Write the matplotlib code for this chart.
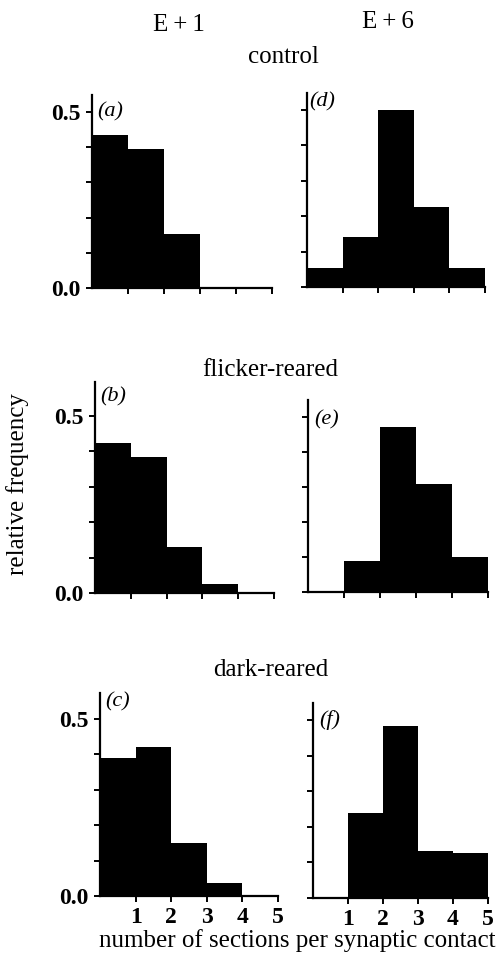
import numpy as np
import matplotlib
matplotlib.use("Agg")
import matplotlib.pyplot as plt

plt.rcParams["font.family"] = ["Liberation Serif", "DejaVu Serif"]

# Relative frequency of contacts by number of sections (bins 0-1, 1-2, ..., 4-5)
bin_edges = [0, 1, 2, 3, 4, 5]
freq_a = [0.435, 0.394, 0.153, 0.0, 0.0]    # control, E+1
freq_d = [0.054, 0.140, 0.500, 0.226, 0.054]  # control, E+6
freq_b = [0.423, 0.384, 0.130, 0.025, 0.0]  # flicker-reared, E+1
freq_e = [0.0, 0.088, 0.471, 0.308, 0.100]  # flicker-reared, E+6
freq_c = [0.390, 0.420, 0.150, 0.037, 0.0]  # dark-reared, E+1
freq_f = [0.0, 0.240, 0.485, 0.132, 0.127]  # dark-reared, E+6

x_tick_values = [1, 2, 3, 4, 5]
x_tick_labels = ["1", "2", "3", "4", "5"]
y_tick_values = [0.0, 0.1, 0.2, 0.3, 0.4, 0.5]
y_tick_labels = ["0.0", "", "", "", "", "0.5"]

column_titles = ["E\u2009+\u20091", "E\u2009+\u20096"]
row_titles = ["control", "flicker-reared", "dark-reared"]
panel_letters = ["(a)", "(d)", "(b)", "(e)", "(c)", "(f)"]

W, H = 498, 963
fig = plt.figure(figsize=(W / 100, H / 100), dpi=100)
fig.patch.set_facecolor("white")

def px_axes(left, right, bottom, top):
    return fig.add_axes([left / W, 1 - bottom / H, (right - left) / W, (bottom - top) / H])

# (left, right, zero-line y, top y) in pixels, and upper y-limit
panels = [
    (freq_a, (92, 272, 288, 95), 0.548, True, False, (97, 112)),
    (freq_d, (307, 485, 287, 93), 0.548, False, False, (309, 102)),
    (freq_b, (95, 274, 593, 382), 0.596, True, False, (100, 397)),
    (freq_e, (308, 488, 592, 400), 0.548, False, False, (314, 420)),
    (freq_c, (100, 278, 896, 693), 0.573, True, True, (105, 702)),
    (freq_f, (313, 488, 898, 703), 0.549, False, True, (319, 720)),
]

for i, (freq, box, ytop, ylabels, xlabels, lab_pos) in enumerate(panels):
    ax = px_axes(*box)
    ax.stairs(freq, bin_edges, fill=True, color="black", linewidth=0)
    ax.set_xlim(0, 5)
    ax.set_ylim(0, ytop)
    for s in ("top", "right"):
        ax.spines[s].set_visible(False)
    for s in ("left", "bottom"):
        ax.spines[s].set_linewidth(1.6)
        ax.spines[s].set_color("black")
    ax.set_xticks(x_tick_values)
    ax.set_yticks(y_tick_values)
    ax.tick_params(direction="out", length=4, width=1.4, colors="black", pad=4)
    if xlabels:
        ax.set_xticklabels(x_tick_labels, fontsize=17, fontweight="bold")
    else:
        ax.set_xticklabels([])
    if ylabels:
        ax.set_yticklabels(y_tick_labels, fontsize=17, fontweight="bold")
    else:
        ax.set_yticklabels([])
    ax.set_facecolor("none")
    fig.text(lab_pos[0] / W, 1 - lab_pos[1] / H, panel_letters[i], fontsize=16,
             style="italic", ha="left", va="center")

fig.text(179 / W, 1 - 25 / H, column_titles[0], fontsize=18, ha="center", va="center")
fig.text(388 / W, 1 - 22 / H, column_titles[1], fontsize=18, ha="center", va="center")
fig.text(283 / W, 1 - 57 / H, row_titles[0], fontsize=18, ha="center", va="center")
fig.text(270 / W, 1 - 370 / H, row_titles[1], fontsize=18, ha="center", va="center")
fig.text(271 / W, 1 - 670 / H, row_titles[2], fontsize=18, ha="center", va="center")
fig.text(18 / W, 1 - 484 / H, "relative frequency", fontsize=18, rotation=90,
         ha="center", va="center")
fig.text(297 / W, 1 - 941 / H, "number of sections per synaptic contact", fontsize=18,
         ha="center", va="center")

fig.savefig("out.png", dpi=100, facecolor="white")
